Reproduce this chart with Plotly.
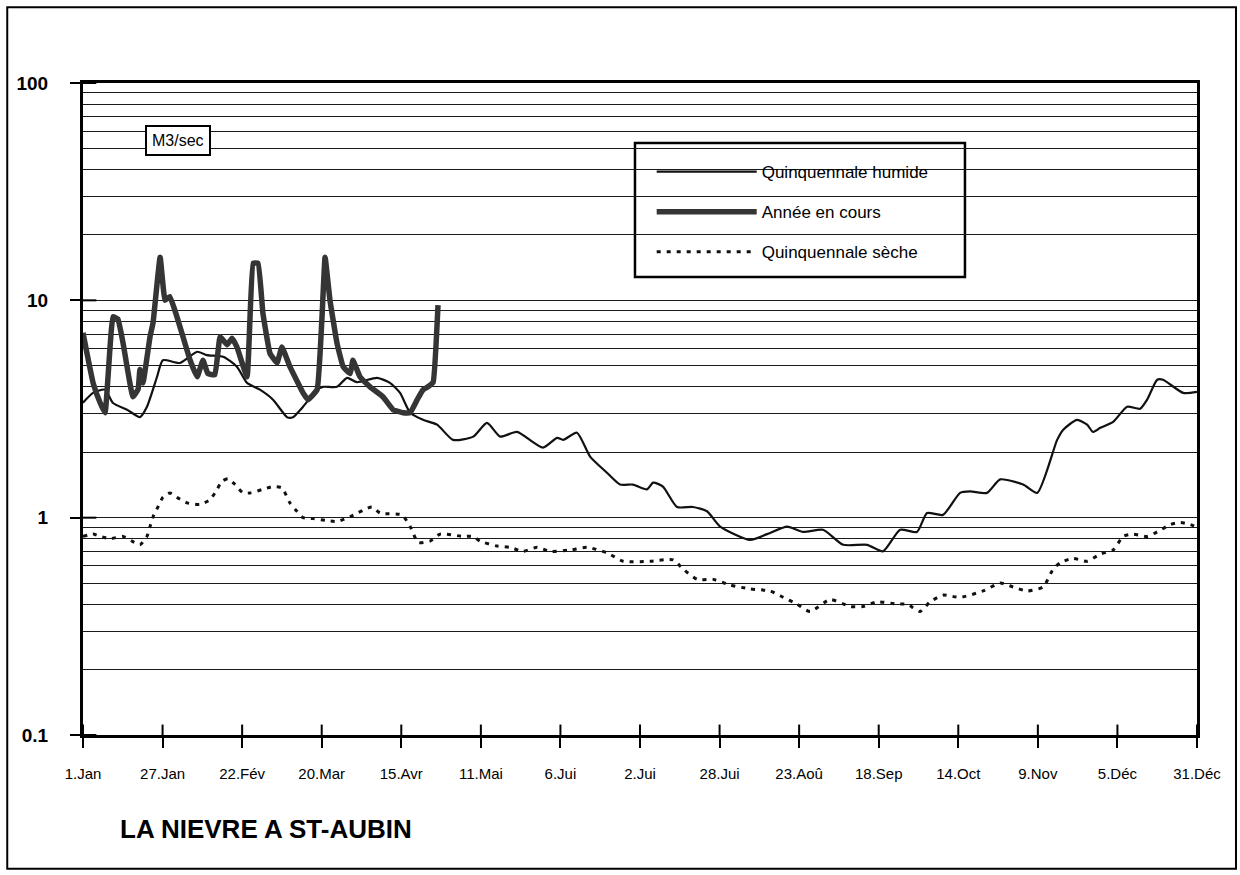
import plotly.graph_objects as go
import math

# ---------------- data ----------------
tick_days = [1, 27, 53, 79, 105, 131, 157, 183, 209, 235, 261, 287, 313, 339, 365]
tick_labels = ["1.Jan", "27.Jan", "22.Fév", "20.Mar", "15.Avr", "11.Mai", "6.Jui", "2.Jui",
               "28.Jui", "23.Aoû", "18.Sep", "14.Oct", "9.Nov", "5.Déc", "31.Déc"]
y_tick_vals = [0.1, 1, 10, 100]
y_tick_text = ["0.1", "1", "10", "100"]

humide_days = [1, 4.3, 8.2, 10.8, 15.4, 19.6, 21.9, 25.2, 27.1, 32.7, 38.3, 41.5, 46.8, 51.3,
               54.6, 58.8, 63.1, 67.7, 69.6, 72.9, 77.5, 79.4, 84, 87.3, 90.5, 97.1, 101.3,
               104.6, 107.9, 112.1, 116.7, 121.9, 128.5, 133, 137.3, 142.8, 151.3, 155.9,
               157.9, 162.4, 166.7, 172.2, 176.5, 180.7, 185.3, 187.3, 190.5, 195.1, 200.3,
               204.9, 209.2, 219, 224.5, 231.1, 236.3, 242.8, 249.4, 257.2, 262.4, 268,
               273.5, 276.8, 282, 287.6, 290.9, 296.4, 300.7, 308.2, 312.8, 319.3, 321.3,
               325.8, 329.1, 331, 333.4, 337.6, 342.2, 346.4, 348.7, 352, 353.9, 360.5, 365]
humide_vals = [3.38, 3.75, 3.88, 3.37, 3.14, 2.9, 3.24, 4.45, 5.3, 5.15, 5.8, 5.6, 5.5, 4.95,
               4.17, 3.88, 3.49, 2.9, 2.9, 3.24, 3.88, 4.0, 4.0, 4.4, 4.2, 4.4, 4.17,
               3.75, 3.04, 2.82, 2.68, 2.28, 2.36, 2.73, 2.36, 2.48, 2.1, 2.33,
               2.28, 2.46, 1.91, 1.61, 1.42, 1.42, 1.35, 1.45, 1.39, 1.12, 1.12,
               1.07, 0.91, 0.79, 0.84, 0.91, 0.86, 0.88, 0.75, 0.75, 0.70, 0.88,
               0.86, 1.05, 1.03, 1.30, 1.32, 1.30, 1.50, 1.42, 1.30, 2.28, 2.54,
               2.82, 2.68, 2.48, 2.59, 2.76, 3.24, 3.17, 3.49, 4.31, 4.31, 3.75, 3.79]

annee_days = [1, 2.3, 4.3, 6.6, 8.2, 10.8, 12.4, 14.1, 17.3, 19, 19.6, 20.6, 22.9, 23.9, 26.2,
              27.8, 29.4, 31.7, 36, 38.3, 40.2, 41.8, 44.1, 45.8, 48.1, 49.7, 51.3, 54.6,
              56.6, 58.2, 59.8, 62.1, 64.4, 66, 68.6, 72.9, 74.5, 77.5, 79.1, 80.1, 81.7,
              84, 86, 88.3, 89.2, 91.5, 94.8, 99, 102.3, 105.6, 107.9, 110.2, 112.1, 113.7,
              115.4, 117]
annee_vals = [7.1, 5.7, 4.17, 3.38, 3.04, 8.4, 8.2, 6.35, 3.6, 3.9, 4.8, 4.17, 6.8, 7.9, 15.8,
              10, 10.4, 8.4, 5.3, 4.45, 5.3, 4.6, 4.55, 6.8, 6.25, 6.7, 6.1, 4.45,
              14.8, 14.8, 8.7, 5.7, 5.15, 6.1, 4.95, 3.75, 3.49, 3.88, 8.4, 15.8, 10,
              6.35, 4.95, 4.6, 5.3, 4.45, 4.0, 3.6, 3.14, 3.04, 3.04, 3.49, 3.88, 4.0,
              4.2, 9.5]

seche_days = [1, 4.3, 6.6, 9.8, 14.1, 17, 19.6, 21.9, 22.9, 23.9, 25.5, 27.1, 29.4, 31.7, 35,
              39.2, 42.5, 44.8, 46.4, 48.4, 50.7, 53.3, 55.6, 59.8, 63.1, 66, 68.6, 70.9,
              72.9, 76.2, 80.7, 84, 88.3, 95.4, 98.1, 105.2, 107.9, 110.5, 114.4, 117.7,
              125.2, 128.5, 130.7, 136.3, 140.5, 144.8, 149.4, 153.6, 160.2, 165.7, 172.2,
              177.5, 186.3, 193.8, 197.1, 201.7, 206.9, 212.4, 219, 225.5, 229.8, 234.3,
              238.6, 245.1, 251.7, 255.9, 260.5, 267, 270.3, 274.5, 277.8, 282, 287.6,
              295.1, 300.7, 304.9, 309.5, 314.7, 318, 320.3, 324.5, 329.1, 333.4, 337.6,
              340.9, 344.1, 348.7, 352, 356.3, 359.6, 362.8, 365]
seche_vals = [0.82, 0.84, 0.82, 0.80, 0.82, 0.78, 0.75, 0.82, 0.91, 1.01, 1.12, 1.24, 1.30, 1.24, 1.17,
              1.15, 1.21, 1.35, 1.47, 1.51, 1.42, 1.30, 1.30, 1.35, 1.39, 1.37, 1.17, 1.07,
              1.0, 0.99, 0.97, 0.96, 1.01, 1.12, 1.05, 1.03, 0.91, 0.77, 0.78, 0.84,
              0.82, 0.82, 0.78, 0.74, 0.73, 0.70, 0.73, 0.70, 0.71, 0.73, 0.69,
              0.63, 0.63, 0.64, 0.58, 0.52, 0.52, 0.49, 0.47, 0.46, 0.43, 0.40,
              0.37, 0.42, 0.39, 0.39, 0.41, 0.40, 0.40, 0.37, 0.41, 0.44, 0.43,
              0.46, 0.50, 0.48, 0.46, 0.48, 0.58, 0.62, 0.65, 0.63, 0.68, 0.71,
              0.82, 0.84, 0.82, 0.86, 0.93, 0.95, 0.93, 0.90]

# ---------------- figure ----------------
FONT = "Arial, Liberation Sans, sans-serif"
fig = go.Figure()

fig.add_trace(go.Scatter(x=humide_days, y=humide_vals, mode="lines", name="Quinquennale humide",
                         legendgroup="a",
                         line=dict(color="#111111", width=2.2, shape="spline", smoothing=0.6)))
fig.add_trace(go.Scatter(x=annee_days, y=annee_vals, mode="lines", name="Année en cours",
                         legendgroup="b",
                         line=dict(color="#353535", width=5.5, shape="spline", smoothing=0.3)))
fig.add_trace(go.Scatter(x=seche_days, y=seche_vals, mode="lines", name="Quinquennale sèche",
                         legendgroup="c",
                         line=dict(color="#111111", width=3, dash="4px,6px", shape="spline", smoothing=0.6)))

fig.update_xaxes(range=[tick_days[0], tick_days[-1]], tickmode="array", tickvals=tick_days,
                 ticktext=tick_labels, showgrid=False, zeroline=False,
                 showline=True, linecolor="black", linewidth=3, mirror=True,
                 ticks="outside", ticklen=10, tickwidth=2, tickcolor="black",
                 ticklabelstandoff=13,
                 tickfont=dict(family=FONT, size=15, color="black"))
fig.update_yaxes(type="log", range=[math.log10(y_tick_vals[0]), math.log10(y_tick_vals[-1])],
                 tickmode="array", tickvals=y_tick_vals,
                 ticktext=["<b>%s</b>" % t for t in y_tick_text],
                 showgrid=True, gridcolor="#1a1a1a", gridwidth=1.4,
                 minor=dict(dtick="D1", showgrid=True, gridcolor="#1a1a1a", gridwidth=1.4, ticks=""),
                 zeroline=False, showline=True, linecolor="black", linewidth=3, mirror=True,
                 ticks="outside", ticklen=10, tickwidth=2, tickcolor="black",
                 ticklabelstandoff=18,
                 tickfont=dict(family=FONT, size=19, color="black"))

shapes = []
# inner halves of the crossing tick marks
for d in tick_days:
    shapes.append(dict(type="line", xref="x", yref="paper", x0=d, x1=d, y0=0, y1=0.016,
                       line=dict(color="black", width=2)))
for v in y_tick_vals:
    py = (math.log10(v) - math.log10(y_tick_vals[0])) / (math.log10(y_tick_vals[-1]) - math.log10(y_tick_vals[0]))
    shapes.append(dict(type="line", xref="paper", yref="paper", x0=0, x1=0.012, y0=py, y1=py,
                       line=dict(color="black", width=2)))
# legend frame (covers the grid lines, under the traces)
shapes.append(dict(type="rect", xref="paper", yref="paper", layer="between",
                   x0=0.4955, x1=0.7917, y0=0.7025, y1=0.908,
                   fillcolor="white", line=dict(color="black", width=2.5)))
# outer frame of the page
shapes.append(dict(type="rect", xref="paper", yref="paper",
                   x0=-0.068, x1=1.035, y0=-0.205, y1=1.116,
                   line=dict(color="black", width=2)))

fig.update_layout(
    width=1240, height=875,
    margin=dict(l=83, r=43, t=83, b=140),
    paper_bgcolor="white", plot_bgcolor="white",
    font=dict(family=FONT, color="black"),
    showlegend=True,
    legend=dict(x=0.5105, y=0.891, xanchor="left", yanchor="top",
                bgcolor="rgba(0,0,0,0)", borderwidth=0,
                font=dict(family=FONT, size=17, color="black"),
                itemwidth=100, tracegroupgap=15, traceorder="grouped"),
    shapes=shapes,
    annotations=[
        dict(text="M3/sec", xref="paper", yref="paper", x=0.085, y=0.912,
             xanchor="center", yanchor="middle", showarrow=False,
             font=dict(family=FONT, size=16, color="black"),
             bgcolor="white", bordercolor="black", borderwidth=2, borderpad=5),
        dict(text="<b>LA NIEVRE A ST-AUBIN</b>", xref="paper", yref="paper",
             x=0.0314, y=-0.1444, xanchor="left", yanchor="middle", showarrow=False,
             font=dict(family=FONT, size=26, color="black")),
    ],
)

fig.write_html("out.html")
